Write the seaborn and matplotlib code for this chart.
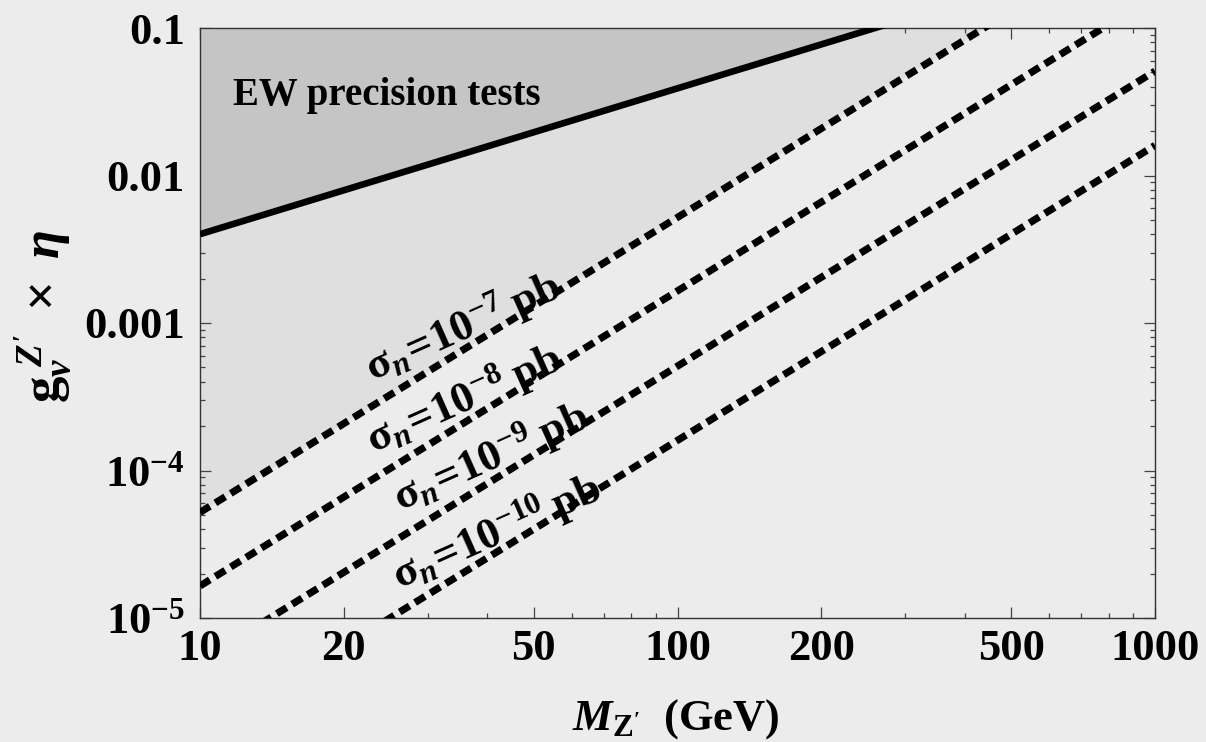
import matplotlib
matplotlib.use("Agg")
import matplotlib.pyplot as plt
from matplotlib.ticker import FixedLocator, LogLocator, NullFormatter
import seaborn as sns

# ---- data -------------------------------------------------------------
mass_gev = [10, 1000]                    # Z' mass (GeV), line end points
ew_bound = [0.004, 0.38]                 # EW precision-test limit on g x eta
coupling_sigma7 = [5.2e-5, 0.52]         # sigma_n = 1e-7 pb
coupling_sigma8 = [1.65e-5, 0.165]       # sigma_n = 1e-8 pb
coupling_sigma9 = [5.1e-6, 0.051]        # sigma_n = 1e-9 pb
coupling_sigma10 = [1.6e-6, 0.016]       # sigma_n = 1e-10 pb
sigma_exponents = ["-7", "-8", "-9", "-10"]

x_ticks = [10, 20, 50, 100, 200, 500, 1000]
x_tick_labels = ["10", "20", "50", "100", "200", "500", "1000"]
x_minor_ticks = [30, 40, 60, 70, 80, 90, 300, 400, 600, 700, 800, 900]
y_ticks = [1e-5, 1e-4, 1e-3, 1e-2, 1e-1]
y_tick_labels = [r"$10^{-5}$", r"$10^{-4}$", "0.001", "0.01", "0.1"]

# ---- style ------------------------------------------------------------
sns.set_theme(style="ticks")
plt.rcParams.update({
    "font.family": ["Liberation Serif", "DejaVu Serif"],
    "font.weight": "bold",
    "text.color": "black",
    "xtick.labelcolor": "black",
    "ytick.labelcolor": "black",
    "mathtext.fontset": "custom",
    "mathtext.rm": "Liberation Serif:bold",
    "mathtext.it": "Liberation Serif:italic:bold",
    "mathtext.bf": "Liberation Serif:bold",
    "mathtext.sf": "Liberation Serif:bold",
    "mathtext.default": "it",
})

BG = "#ececec"
LIGHT = "#dfdfdf"
DARK = "#c5c5c5"

W, H = 1206, 742
fig = plt.figure(figsize=(W / 100, H / 100), dpi=100, facecolor=BG)
ax = fig.add_axes([200 / W, 1 - 618 / H, 955 / W, 590 / H])
ax.set_facecolor(BG)
ax.set_xscale("log")
ax.set_yscale("log")

# shaded regions: above the 1e-7 pb curve, and above the EW bound
ax.fill_between(mass_gev, coupling_sigma7, 1.0, color=LIGHT, lw=0, zorder=0.5)
ax.fill_between(mass_gev, ew_bound, 1.0, color=DARK, lw=0, zorder=0.6)

sns.lineplot(x=mass_gev, y=ew_bound, ax=ax, color="black", lw=4.8,
             solid_capstyle="butt", zorder=3)

dash = (0, (1.6, 0.9))
for curve in (coupling_sigma7, coupling_sigma8, coupling_sigma9, coupling_sigma10):
    sns.lineplot(x=mass_gev, y=curve, ax=ax, color="black", lw=5.2,
                 linestyle=dash, dash_capstyle="butt", zorder=3)

ax.set_xlim(10, 1000)
ax.set_ylim(1e-5, 0.1)

# ---- ticks ------------------------------------------------------------
ax.xaxis.set_major_locator(FixedLocator(x_ticks))
ax.set_xticklabels(x_tick_labels)
ax.xaxis.set_minor_locator(FixedLocator(x_minor_ticks))
ax.xaxis.set_minor_formatter(NullFormatter())
ax.yaxis.set_major_locator(FixedLocator(y_ticks))
ax.set_yticklabels(y_tick_labels)
ax.yaxis.set_minor_locator(LogLocator(base=10, subs=range(2, 10)))
ax.yaxis.set_minor_formatter(NullFormatter())

ax.tick_params(which="both", direction="in", top=True, right=True,
               color="#444444", width=0.9)
ax.tick_params(which="major", length=8, labelsize=32, labelcolor="black")
ax.tick_params(which="minor", length=3.6)
ax.tick_params(axis="y", which="major", pad=11)
ax.tick_params(axis="x", which="major", pad=8)
for lab in ax.get_xticklabels() + ax.get_yticklabels():
    lab.set_fontweight("bold")
for sp in ax.spines.values():
    sp.set_color("#333333")
    sp.set_linewidth(1.0)

ax.set_xlabel("")
ax.set_ylabel("")

# ---- labels -----------------------------------------------------------
fig.text(676 / W, 1 - 730 / H, r"$M_{\mathrm{Z'}}$  (GeV)", fontsize=32,
         ha="center", va="baseline", color="black")
fig.text(60 / W, 1 - 316 / H, r"$\mathrm{g}_{\nu}^{\ Z'}\ \times\ \eta$",
         fontsize=38, rotation=90, rotation_mode="anchor",
         ha="center", va="baseline", color="black")

ax.text(0.0346, 0.8695, "EW precision tests", transform=ax.transAxes,
        fontsize=28, fontweight="bold", ha="left", va="baseline",
        color="black", zorder=4)

label_anchor = [(23.0, 4.0e-4), (23.1, 1.3e-4), (26.3, 5.3e-5), (26.2, 1.57e-5)]
for (mx, gy), ex in zip(label_anchor, sigma_exponents):
    ax.text(mx, gy,
            r"$\mathrm{\sigma}_{n}\!=\!\mathrm{10}^{%s}\;\mathrm{pb}$" % ex,
            fontsize=32, rotation=24, rotation_mode="anchor",
            ha="left", va="baseline", color="black", zorder=4)

fig.savefig("out.png", dpi=100, facecolor=BG)
